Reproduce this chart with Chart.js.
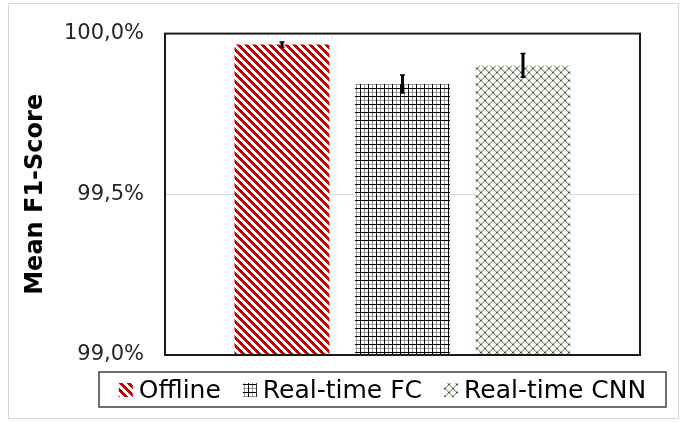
<!DOCTYPE html>
<html>
<head>
<meta charset="utf-8">
<script src="https://cdn.jsdelivr.net/npm/chart.js@4"></script>
<style>
  body { margin: 0; background: #fff; }
  #wrap { width: 689px; height: 422px; }
</style>
</head>
<body>
<div id="wrap"><canvas id="f1Chart" width="689" height="422"></canvas></div>
<script>
// values
const seriesNames = ["Offline", "Real-time FC", "Real-time CNN"];
const meanF1 = [99.966, 99.843, 99.901];
const f1Err = [0.008, 0.028, 0.037];
const yTicks = [99.0, 99.5, 100.0];

// 8x8 tiles that mimic the Excel pattern fills
function makePattern(pick) {
  const c = document.createElement("canvas");
  c.width = 8; c.height = 8;
  const g = c.getContext("2d");
  g.fillStyle = "#fff";
  g.fillRect(0, 0, 8, 8);
  for (let y = 0; y < 8; y++) {
    for (let x = 0; x < 8; x++) {
      const col = pick(x, y);
      if (col) { g.fillStyle = col; g.fillRect(x, y, 1, 1); }
    }
  }
  return g.createPattern(c, "repeat");
}

const ctx = document.getElementById("f1Chart").getContext("2d");

const redStripes = makePattern((x, y) => (((x - y) % 8 + 8) % 8 < 4 ? "#c00000" : null));
const blackGrid = makePattern((x, y) => {
  if (x === 0 || y === 0) return "#000";
  if (x === 4 || y === 4) return "#9a9a9a";
  return null;
});
const greenLattice = makePattern((x, y) => {
  const a = (x + y) % 8 < 2;
  const b = ((x - y) % 8 + 8) % 8 < 2;
  if (a && b) return "#3b5a2a";
  if (a || b) return "#a9b8a0";
  return null;
});
const fills = [redStripes, blackGrid, greenLattice];

const datasets = seriesNames.map((name, i) => ({
  label: name,
  data: [meanF1[i]],
  err: f1Err[i],
  backgroundColor: fills[i],
  borderWidth: 0
}));

const framePlugin = {
  id: "frame",
  beforeDraw(chart) {
    const c = chart.ctx;
    c.save();
    c.strokeStyle = "#d9d9d9";
    c.lineWidth = 1;
    c.strokeRect(8.5, 3.5, 670, 415);
    c.restore();
  },
  afterDatasetsDraw(chart) {
    const c = chart.ctx;
    const y = chart.scales.y;
    c.save();
    // error bars
    c.strokeStyle = "#000";
    chart.data.datasets.forEach((ds, i) => {
      const bar = chart.getDatasetMeta(i).data[0];
      const v = ds.data[0];
      const top = y.getPixelForValue(v + ds.err);
      const bot = y.getPixelForValue(v - ds.err);
      c.lineWidth = 3;
      c.beginPath();
      c.moveTo(bar.x, top);
      c.lineTo(bar.x, bot);
      c.stroke();
      c.lineWidth = 1.5;
      c.beginPath();
      c.moveTo(bar.x - 2.5, top); c.lineTo(bar.x + 2.5, top);
      c.moveTo(bar.x - 2.5, bot); c.lineTo(bar.x + 2.5, bot);
      c.stroke();
    });
    // plot area frame
    const a = chart.chartArea;
    c.strokeStyle = "#1a1a1a";
    c.lineWidth = 2;
    c.strokeRect(a.left, a.top, a.right - a.left, a.bottom - a.top);
    c.restore();
  },
  afterDraw(chart) {
    const c = chart.ctx;
    c.save();
    c.font = "25px 'DejaVu Sans'";
    c.textBaseline = "middle";
    const icon = 14, gap = 6, between = 22;
    const items = chart.data.datasets.map(ds => ({ ds, w: c.measureText(ds.label).width }));
    const total = items.reduce((s, it) => s + icon + gap + it.w, 0) + between * (items.length - 1);
    let x = 382.5 - total / 2;
    const cy = 390;
    items.forEach(it => {
      c.fillStyle = it.ds.backgroundColor;
      c.fillRect(x, cy - icon / 2, icon, icon);
      x += icon + gap;
      c.fillStyle = "#000";
      c.fillText(it.ds.label, x, cy + 1);
      x += it.w + between;
    });
    c.strokeStyle = "#404040";
    c.lineWidth = 1.5;
    c.strokeRect(99, 372, 567, 35);
    c.restore();
  }
};

new Chart(ctx, {
  type: "bar",
  data: { labels: [""], datasets },
  options: {
    responsive: false,
    animation: false,
    categoryPercentage: 0.761,
    barPercentage: 0.788,
    layout: { padding: { left: 0, top: 30, right: 49, bottom: 67 } },
    plugins: { legend: { display: false }, tooltip: { enabled: false } },
    scales: {
      x: { display: false },
      y: {
        min: yTicks[0],
        max: yTicks[yTicks.length - 1],
        afterBuildTicks: s => { s.ticks = yTicks.map(v => ({ value: v })); },
        afterFit: s => { s.width = 165; },
        border: { display: false },
        grid: { color: "#d9d9d9", lineWidth: 1, drawTicks: false },
        ticks: {
          padding: 21,
          color: "#262626",
          font: { family: "'DejaVu Sans'", size: 21 },
          callback: v => v.toFixed(1).replace(".", ",") + "%"
        },
        title: {
          display: true,
          text: "Mean F1-Score",
          color: "#000",
          font: { family: "'DejaVu Sans'", size: 24, weight: "bold" },
          padding: { top: 21, bottom: 0 }
        }
      }
    }
  },
  plugins: [framePlugin]
});
</script>
</body>
</html>
